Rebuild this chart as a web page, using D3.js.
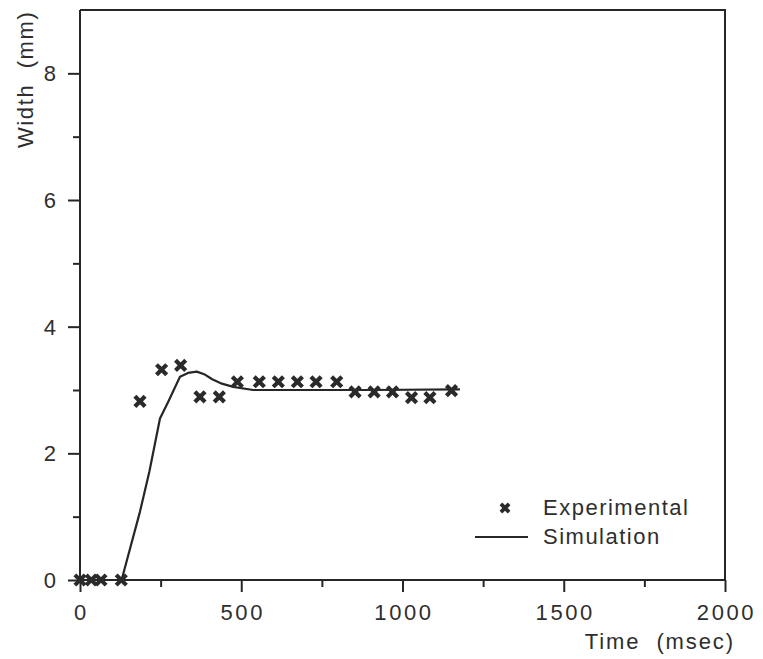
<!DOCTYPE html>
<html>
<head>
<meta charset="utf-8">
<script src="https://cdn.jsdelivr.net/npm/d3@7"></script>
<style>
  body { margin: 0; background: #fff; }
  svg { display: block; }
  text { font-family: "Liberation Sans", Arial, sans-serif; fill: #2e2e2e; }
</style>
</head>
<body>
<div id="chart"></div>
<script>
const width = 763;
const height = 659;

// Experimental measurements (time in msec, width in mm)
const expTime = [0, 35, 65, 128, 186, 253, 312, 372, 432, 488, 556, 615, 674, 732, 796, 853, 912, 969, 1028, 1085, 1152];
const expWidth = [0, 0, 0, 0, 2.82, 3.32, 3.39, 2.89, 2.89, 3.13, 3.13, 3.13, 3.13, 3.13, 3.13, 2.97, 2.97, 2.97, 2.88, 2.88, 2.99];

// Simulation curve
const simTime = [0, 129, 186, 215, 248, 274, 310, 335, 362, 385, 410, 440, 475, 537, 700, 900, 1178];
const simWidth = [0, 0, 1.08, 1.71, 2.55, 2.82, 3.21, 3.27, 3.29, 3.25, 3.17, 3.1, 3.05, 3.0, 3.0, 3.0, 3.01];

const xMajor = [0, 500, 1000, 1500, 2000];
const yMajor = [0, 2, 4, 6, 8];

const margin = { left: 80, right: 38, top: 10, bottom: 79 };

const x = d3.scaleLinear()
  .domain([0, 2000])
  .range([margin.left, width - margin.right]);

const y = d3.scaleLinear()
  .domain([0, 9])
  .range([height - margin.bottom, margin.top]);

const svg = d3.select("#chart")
  .append("svg")
  .attr("width", width)
  .attr("height", height);

const ink = "#262626";

// Frame (top and right edges)
svg.append("path")
  .attr("d", `M${x(0)},${y(9)}H${x(2000)}V${y(0)}`)
  .attr("fill", "none")
  .attr("stroke", ink)
  .attr("stroke-width", 2);

// Bottom axis with major and minor ticks
const xAxis = svg.append("g")
  .attr("transform", `translate(0,${y(0)})`)
  .call(d3.axisBottom(x).tickValues(d3.range(0, 2001, 250)).tickSize(7).tickFormat(""));
xAxis.selectAll(".tick line")
  .attr("y2", d => d % 500 === 0 ? 12 : 7);
xAxis.select(".domain").attr("d", `M${x(0)},0H${x(2000)}`);
xAxis.selectAll("path, line").attr("stroke", ink).attr("stroke-width", 2);

xAxis.selectAll(".lbl")
  .data(xMajor)
  .join("text")
  .attr("class", "lbl")
  .attr("x", d => x(d) + 1.5)
  .attr("y", 40)
  .attr("text-anchor", "middle")
  .style("font-size", "22px")
  .style("letter-spacing", "2.6px")
  .text(d => d);

// Left axis with major and minor ticks
const yAxis = svg.append("g")
  .attr("transform", `translate(${x(0)},0)`)
  .call(d3.axisLeft(y).tickValues(d3.range(0, 9)).tickSize(7).tickFormat(""));
yAxis.selectAll(".tick line")
  .attr("x2", d => d % 2 === 0 ? -12 : -7);
yAxis.select(".domain").attr("d", `M0,${y(0)}V${y(9)}`);
yAxis.selectAll("path, line").attr("stroke", ink).attr("stroke-width", 2);

yAxis.selectAll(".lbl")
  .data(yMajor)
  .join("text")
  .attr("class", "lbl")
  .attr("x", -24)
  .attr("y", d => y(d))
  .attr("dy", "0.36em")
  .attr("text-anchor", "end")
  .style("font-size", "22px")
  .text(d => d);

// Axis titles
svg.append("text")
  .attr("x", 735)
  .attr("y", 649)
  .attr("text-anchor", "end")
  .style("font-size", "22px")
  .style("letter-spacing", "1.9px")
  .style("white-space", "pre")
  .text("Time  (msec)");

svg.append("text")
  .attr("transform", "translate(33,148) rotate(-90)")
  .attr("text-anchor", "start")
  .style("font-size", "22px")
  .style("letter-spacing", "1.6px")
  .style("white-space", "pre")
  .text("Width  (mm)");

// Simulation line
const simData = simTime.map((t, i) => ({ t, w: simWidth[i] }));
const line = d3.line()
  .x(d => x(d.t))
  .y(d => y(d.w));

svg.append("path")
  .datum(simData)
  .attr("d", line)
  .attr("fill", "none")
  .attr("stroke", ink)
  .attr("stroke-width", 2.2)
  .attr("stroke-linejoin", "round");

// Experimental markers
const expData = expTime.map((t, i) => ({ t, w: expWidth[i] }));
const marker = d3.symbol().type(d3.symbolX).size(70);

svg.append("g")
  .selectAll("path")
  .data(expData)
  .join("path")
  .attr("transform", d => `translate(${x(d.t)},${y(d.w)})`)
  .attr("d", marker)
  .attr("fill", "none")
  .attr("stroke", "#2a2a2a")
  .attr("stroke-width", 4.2);

// Legend
const legend = svg.append("g");
legend.append("path")
  .attr("transform", "translate(505,508)")
  .attr("d", d3.symbol().type(d3.symbolX).size(45))
  .attr("fill", "none")
  .attr("stroke", "#2a2a2a")
  .attr("stroke-width", 3.8);
legend.append("text")
  .attr("x", 543)
  .attr("y", 515)
  .style("font-size", "22px")
  .style("letter-spacing", "1.5px")
  .text("Experimental");

legend.append("line")
  .attr("x1", 475)
  .attr("x2", 528)
  .attr("y1", 537)
  .attr("y2", 537)
  .attr("stroke", ink)
  .attr("stroke-width", 2.2);
legend.append("text")
  .attr("x", 543)
  .attr("y", 544)
  .style("font-size", "22px")
  .style("letter-spacing", "1.5px")
  .text("Simulation");
</script>
</body>
</html>
